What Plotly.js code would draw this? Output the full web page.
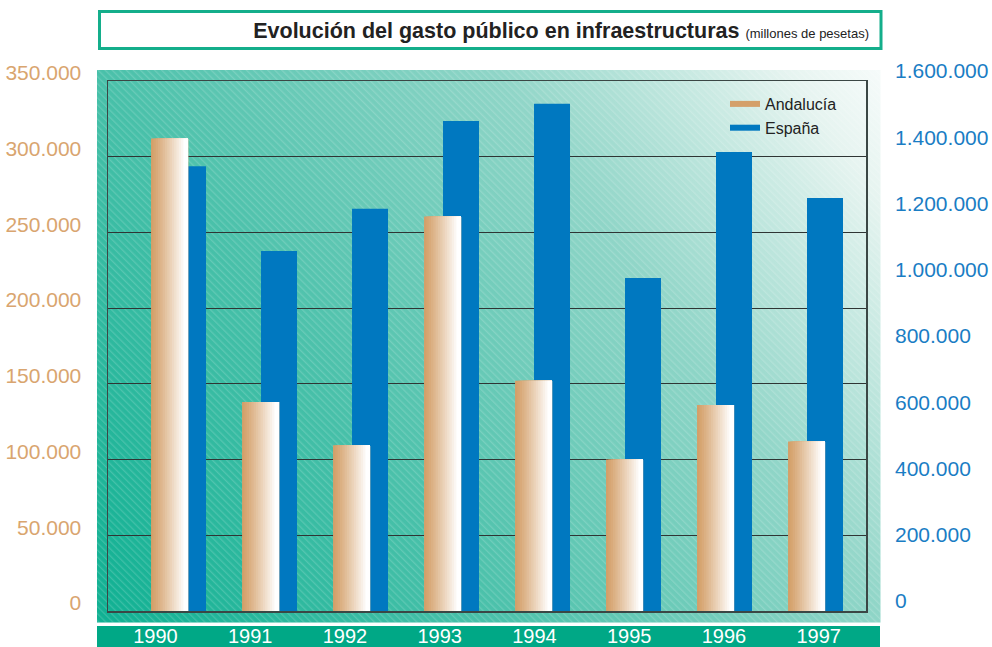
<!DOCTYPE html>
<html>
<head>
<meta charset="utf-8">
<script src="https://cdn.plot.ly/plotly-3.0.1.min.js"></script>
<style>
html,body{margin:0;padding:0;background:#ffffff;}
#chart{width:992px;height:647px;}
</style>
</head>
<body>
<div id="chart"></div>
<script>
// ---- data ----
const years = ['1990','1991','1992','1993','1994','1995','1996','1997'];
const andalucia = [312000, 138000, 109500, 260500, 152000, 100000, 136000, 112000];
const espana = [1343000, 1087000, 1214000, 1479000, 1531000, 1005000, 1386000, 1247000];
const leftTickVals = [0, 50000, 100000, 150000, 200000, 250000, 300000, 350000];
const leftTickText = ['0', '50.000', '100.000', '150.000', '200.000', '250.000', '300.000', '350.000'];
const rightTickVals = [0, 200000, 400000, 600000, 800000, 1000000, 1200000, 1400000, 1600000];
const rightTickText = ['0', '200.000', '400.000', '600.000', '800.000', '1.000.000', '1.200.000', '1.400.000', '1.600.000'];

// ---- styling ----
const TAN = [212, 160, 106];
const BLUE = '#0078C0';
const FONT = 'Liberation Sans, Arial, Helvetica, sans-serif';
const idx = years.map((_, i) => i);

const tanOffset = -0.302, tanWidth = 0.4066;
const blueOffset = -0.0934, blueWidth = 0.3956;

const traces = [];
// España (drawn first, behind)
traces.push({
  type: 'bar', x: idx, y: espana, xaxis: 'x', yaxis: 'y',
  offset: blueOffset, width: blueWidth,
  marker: {color: BLUE, line: {width: 0}},
  showlegend: false, hoverinfo: 'skip'
});
// Andalucía: horizontal tan->white gradient built from overlapping slices
const N = 16;
for (let k = 0; k < N; k++) {
  const t = Math.min(1, Math.pow(k / (N - 2), 1.15));
  const c = TAN.map(v => Math.round(v + (255 - v) * t));
  const off = tanOffset + k * tanWidth / N;
  traces.push({
    type: 'bar', x: idx, y: andalucia, xaxis: 'x', yaxis: 'y2',
    offset: off, width: tanWidth - k * tanWidth / N,
    marker: {color: 'rgb(' + c.join(',') + ')', line: {width: 0}},
    showlegend: false, hoverinfo: 'skip'
  });
}
// legend entries (and the year axis)
traces.push({
  type: 'scatter', mode: 'lines', name: 'Andalucía',
  x: years, y: years.map(() => null), xaxis: 'x2', yaxis: 'y',
  line: {color: 'rgb(' + TAN.join(',') + ')', width: 6}, legendgroup: 'a'
});
traces.push({
  type: 'scatter', mode: 'lines', name: 'España',
  x: years, y: years.map(() => null), xaxis: 'x2', yaxis: 'y',
  line: {color: BLUE, width: 6}, legendgroup: 'b'
});

const W = 992, H = 647, L = 108, R = 866, T = 81, B = 611;
const pw = R - L, ph = B - T;
const px = v => (v - L) / pw;
const py = v => (B - v) / ph;

const svg = "<svg xmlns='http://www.w3.org/2000/svg' width='784' height='553' viewBox='0 0 784 553' preserveAspectRatio='none'>" +
  "<defs><linearGradient id='g' gradientUnits='userSpaceOnUse' x1='0' y1='553' x2='784' y2='0'>" +
  "<stop offset='0' stop-color='#0FB092'/><stop offset='0.33' stop-color='#48C0A9'/>" +
  "<stop offset='0.67' stop-color='#8FD5C7'/><stop offset='0.92' stop-color='#E6F4F0'/><stop offset='1' stop-color='#F6FBFA'/></linearGradient>" +
  "<pattern id='p' width='5' height='5' patternUnits='userSpaceOnUse' patternTransform='rotate(-45)'>" +
  "<rect x='0' y='0' width='1.3' height='5' fill='#ffffff' fill-opacity='0.16'/></pattern></defs>" +
  "<rect width='784' height='553' fill='url(#g)'/><rect width='784' height='553' fill='url(#p)'/></svg>";
const svgUri = 'data:image/svg+xml;charset=utf-8,' + encodeURIComponent(svg);

const layout = {
  width: W, height: H, autosize: false,
  margin: {l: L, r: W - R, t: T, b: H - B, pad: 0},
  paper_bgcolor: 'rgba(0,0,0,0)', plot_bgcolor: 'rgba(0,0,0,0)',
  barmode: 'overlay',
  font: {family: FONT, color: '#222'},
  title: {
    text: '<b>Evolución del gasto público en infraestructuras</b> <span style="font-size:13px">(millones de pesetas)</span>',
    font: {family: FONT, size: 21.5, color: '#222'},
    xref: 'container', yref: 'container', x: 869 / W, xanchor: 'right', y: 1 - 30 / H, yanchor: 'middle'
  },
  xaxis: {
    range: [-0.775, 7.555], showticklabels: false, showgrid: false, zeroline: false,
    showline: true, mirror: true, linecolor: '#3b4745', linewidth: 1.5, ticks: '', fixedrange: true
  },
  xaxis2: {
    overlaying: 'x', type: 'category', range: [-0.5, 7.5], side: 'bottom', anchor: 'y',
    showgrid: false, zeroline: false, showline: false, ticks: '',
    tickfont: {family: FONT, size: 20, color: '#ffffff'}, ticklabelstandoff: 11
  },
  yaxis: {
    side: 'right', range: [0, 1600000], tickmode: 'array', tickvals: rightTickVals, ticktext: rightTickText,
    showgrid: false, zeroline: false, showline: false, ticks: '',
    tickfont: {family: FONT, size: 21, color: '#1A7DC4'}, ticklabelstandoff: 28, ticklabelshift: -10
  },
  yaxis2: {
    overlaying: 'y', side: 'left', range: [0, 350000], tickmode: 'array', tickvals: leftTickVals, ticktext: leftTickText,
    showgrid: true, gridcolor: '#2f3534', gridwidth: 1.2, zeroline: false,
    showline: true, mirror: true, linecolor: '#3b4745', linewidth: 1.5, ticks: '',
    tickfont: {family: FONT, size: 21, color: '#D9A56F'}, ticklabelstandoff: 21, ticklabelshift: -8
  },
  legend: {
    x: px(725), y: py(87), xanchor: 'left', yanchor: 'top', bgcolor: 'rgba(0,0,0,0)',
    font: {family: FONT, size: 16, color: '#222'}, traceorder: 'normal', tracegroupgap: 0
  },
  images: [{
    source: svgUri, xref: 'paper', yref: 'paper',
    x: px(97), y: py(70), sizex: (880.7 - 97) / pw, sizey: (622.7 - 70) / ph,
    xanchor: 'left', yanchor: 'top', sizing: 'stretch', layer: 'below'
  }],
  shapes: [
    {type: 'rect', xref: 'paper', yref: 'paper', x0: px(97), x1: px(880), y0: py(647), y1: py(626),
     fillcolor: '#00A886', line: {width: 0}, layer: 'below'},
    {type: 'rect', xref: 'paper', yref: 'paper', x0: px(99.5), x1: px(881), y0: py(48.5), y1: py(11.5),
     fillcolor: '#ffffff', line: {color: '#14AE8B', width: 3}, layer: 'below'}
  ],
  showlegend: true
};

Plotly.newPlot('chart', traces, layout, {staticPlot: true, displayModeBar: false});
</script>
</body>
</html>
